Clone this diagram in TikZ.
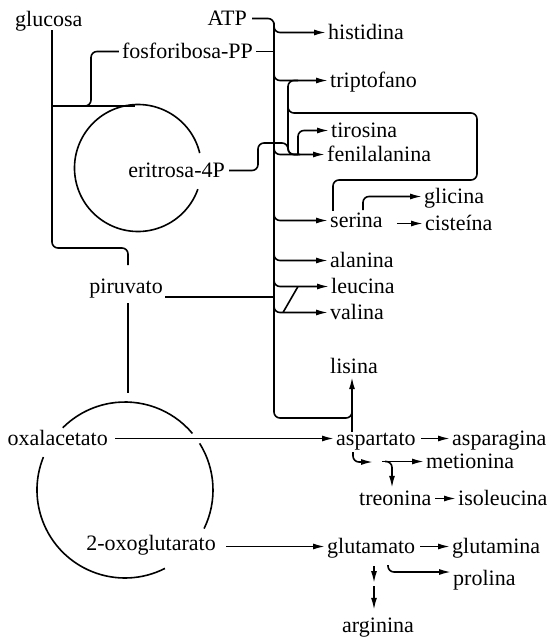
\documentclass[tikz,border=0pt]{standalone}
\usepackage{fontspec}
\setmainfont{Liberation Serif}
\usetikzlibrary{arrows.meta,calc}
\begin{document}
\begin{tikzpicture}[x=1pt,y=1pt,
  lbl/.style={inner sep=0pt, text height=13pt, text depth=0pt, font=\fontsize{22pt}{26pt}\selectfont},
  ln/.style={line width=1.6pt, rounded corners=6pt},
  arr/.style={ln, -{Latex[length=12pt,width=6pt]}}]
\useasboundingbox (0,0) rectangle (552,-637);
% labels
\node[lbl,anchor=base west] (glucosa) at (15,-26) {glucosa};
\node[lbl,anchor=base east] (atp) at (247,-25) {ATP};
\node[lbl,anchor=base] (prpp) at (187.5,-58) {fosforibosa-PP};
\node[lbl,anchor=base east] (e4p) at (225,-177) {eritrosa-4P};
\node[lbl,anchor=base east] (pir) at (163,-293) {piruvato};
\node[lbl,anchor=base east] (oaa) at (108,-445) {oxalacetato};
\node[lbl,anchor=base east] (akg) at (216,-550) {2-oxoglutarato};
\node[lbl,anchor=base west] (his) at (328,-39) {histidina};
\node[lbl,anchor=base west] (trp) at (330,-87) {triptofano};
\node[lbl,anchor=base west] (tyr) at (331,-137) {tirosina};
\node[lbl,anchor=base west] (phe) at (327,-161) {fenilalanina};
\node[lbl,anchor=base west] (ser) at (330,-227) {serina};
\node[lbl,anchor=base west] (gly) at (424,-203) {glicina};
\node[lbl,anchor=base west] (cys) at (425,-230) {cisteína};
\node[lbl,anchor=base west] (ala) at (330,-267) {alanina};
\node[lbl,anchor=base west] (leu) at (331,-293) {leucina};
\node[lbl,anchor=base west] (val) at (330,-319) {valina};
\node[lbl,anchor=base west] (lys) at (330,-373) {lisina};
\node[lbl,anchor=base west] (asp) at (336,-445) {aspartato};
\node[lbl,anchor=base west] (asn) at (452,-445) {asparagina};
\node[lbl,anchor=base west] (met) at (426,-468) {metionina};
\node[lbl,anchor=base west] (thr) at (359,-505) {treonina};
\node[lbl,anchor=base west] (ile) at (458,-505) {isoleucina};
\node[lbl,anchor=base west] (glu) at (327,-553) {glutamato};
\node[lbl,anchor=base west] (gln) at (452,-553) {glutamina};
\node[lbl,anchor=base west] (pro) at (453,-585) {prolina};
\node[lbl,anchor=base west] (arg) at (342,-632) {arginina};
% helper coordinates
\coordinate (mx) at (274,0);
\coordinate (ix) at (288,0);
\coordinate (bend) at (352,-418);
\coordinate (loopR) at (477,-113);
\coordinate (loopB) at (333,-180);
\coordinate (gx) at (52,-248);
\coordinate (pv) at (128,-248);
\coordinate (px) at (91,-106);
\coordinate (c1) at (138,-168);
\coordinate (c2) at (125,-490);
\coordinate (ej) at (258,-143);
\coordinate (hk) at (353,-462);
\coordinate (pk) at (388,-565);
\coordinate (ak) at (374,-566);
\coordinate (gk) at (363,-210);
% glucosa branch and pentose cycle
\draw[ln] ([yshift=-4pt]gx |- glucosa.south) -- (gx) -- (pv) -- ++(0,-17);
\draw[ln] (gx |- px) -- ([xshift=-3pt]c1 |- px);
\draw[ln] ([xshift=-3pt]prpp.west) -| (px) -- ++(-10,0);
\draw[ln] ([shift={(c1)}]13.6:63.5) arc[start angle=13.6,end angle=340.5,radius=63.5];
% main trunk
\draw[ln] ([xshift=5pt]atp.east) -- (mx |- atp.east) -- (mx |- bend) -- (bend) -- ([yshift=12pt]bend);
\draw[ln] ([xshift=3pt]prpp.east) -- (mx |- prpp.east);
\foreach \n in {his,trp,phe,ser,ala,leu,val}
  \draw[arr] ([yshift=10pt]mx |- \n.west) -- (mx |- \n.west) -- ([xshift=-2pt]\n.west);
\draw[ln] ([xshift=9pt]mx |- val.west) -- ([xshift=24pt]mx |- leu.west);
% aromatic group
\draw[ln] ([xshift=4pt]e4p.east) -| (ej) -- (ix |- ej) -- (ix |- phe.west) -- ([xshift=10pt]ix |- phe.west);
\draw[ln] ([xshift=10pt]ix |- trp.west) -- (ix |- trp.west) -- (ix |- phe.west) -- ([xshift=12pt]ix |- phe.west);
\draw[arr] ([xshift=10pt]ix |- phe.west) |- ([xshift=-2pt]tyr.west);
\draw[ln] ([yshift=10pt]ix |- loopR) -- (ix |- loopR) -- (loopR) -- (loopR |- loopB) -- (loopB) -- ([yshift=3pt]loopB |- ser.north);
% serina products
\draw[arr] (gk) |- ([xshift=-2pt]gly.west);
\draw[arr] ([xshift=14pt]ser.east |- cys.west) -- ([xshift=-2pt]cys.west);
% piruvato
\path ([shift={(2,-10.5)}]pir.east) coordinate (pl);
\draw[ln] (pl) -- (mx |- pl);
\draw[ln] ([yshift=-10pt]pv |- pir.south) -- ([yshift=97pt]pv |- c2);
% citric acid cycle
\draw[ln] ([shift={(c2)}]40:88) arc[start angle=40,end angle=135,radius=88];
\draw[ln] ([shift={(c2)}]158:88) arc[start angle=158,end angle=297,radius=88];
\draw[ln] ([shift={(c2)}]-26:88) arc[start angle=-26,end angle=32,radius=88];
\draw[arr] ([xshift=7pt]oaa.east) -- ([xshift=-2pt]asp.west);
\draw[arr] ([xshift=10pt]akg.east |- glu.west) -- ([xshift=-2pt]glu.west);
% aspartato family
\draw[arr] (bend |- asp.north) -- ([yshift=-4pt]bend |- lys.south);
\draw[arr] ([xshift=5pt]asp.east |- asn.west) -- ([xshift=-2pt]asn.west);
\draw[arr] ([yshift=-7pt]hk |- asp.south) -- (hk) -- ++(20,0);
\draw[arr] ([xshift=29pt]hk |- met.west) -- ([xshift=-2pt]met.west);
\draw[arr] ([xshift=32pt]hk |- met.west) -- ([xshift=39pt]hk |- met.west) -- ([shift={(39pt,4pt)}]hk |- thr.north);
\draw[arr] ([xshift=4pt]thr.east |- ile.west) -- ([xshift=-2pt]ile.west);
% glutamato family
\draw[arr] ([xshift=5pt]glu.east |- gln.west) -- ([xshift=-2pt]gln.west);
\draw[arr] (pk) |- ([shift={(-2pt,6.5pt)}]pro.west);
\draw[arr] (ak) -- ++(0,-17);
\draw[arr] ([yshift=-20pt]ak) -- ([yshift=9pt]ak |- arg.north);
\end{tikzpicture}
\end{document}
